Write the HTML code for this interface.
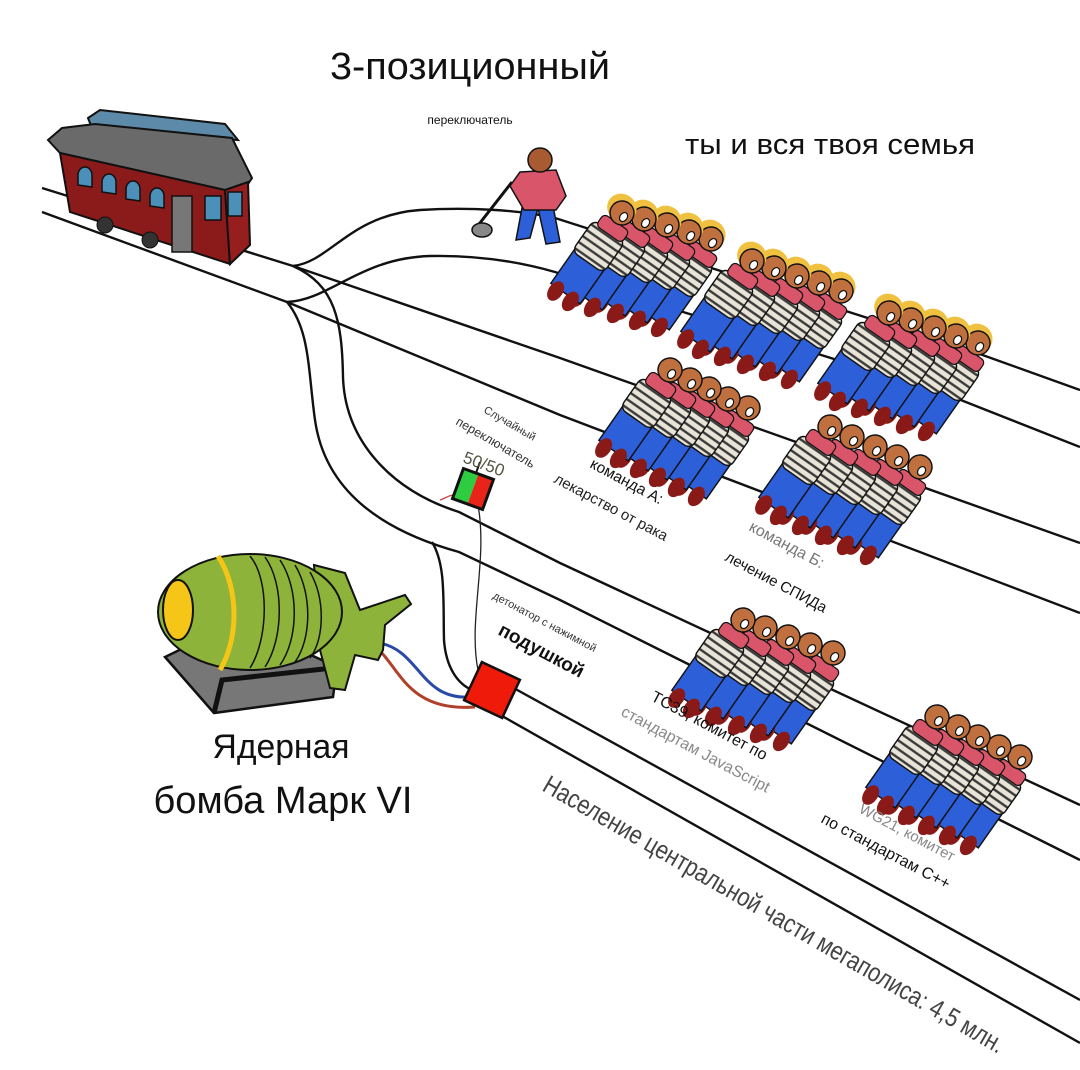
<!DOCTYPE html>
<html><head><meta charset="utf-8"><style>
html,body{margin:0;padding:0;background:#fff;}
svg{display:block;}
text{font-family:"Liberation Sans","DejaVu Sans",sans-serif;}
</style></head><body>
<svg width="1080" height="1070" viewBox="0 0 1080 1070" xmlns="http://www.w3.org/2000/svg">
<defs>
<pattern id="str" width="8" height="6" patternUnits="userSpaceOnUse">
<rect width="8" height="6" fill="#e8e4d8"/><rect y="3.5" width="8" height="2" fill="#3a3a3a"/>
</pattern>
<g id="p0">
<rect x="-15" y="48" width="30" height="34" fill="#2d5fd8" stroke="#111" stroke-width="1.2"/>
<ellipse cx="-8" cy="85" rx="6" ry="9" fill="#8a1a18"/>
<ellipse cx="7" cy="85" rx="6" ry="9" fill="#8a1a18"/>
<rect x="-16" y="18" width="32" height="32" rx="6" fill="url(#str)" stroke="#111" stroke-width="1.2"/>
<rect x="-12" y="9" width="26" height="12" rx="4" fill="#d9556a" stroke="#111" stroke-width="1"/>
<circle cx="0" cy="0" r="10" fill="#c0703e" stroke="#111" stroke-width="1.2"/>
<ellipse cx="3" cy="2" rx="3" ry="4" fill="#fff" stroke="#111" stroke-width="1"/>
</g>
<g id="p"><use href="#p0" transform="scale(1.2)"/></g>
<g id="pf">
<ellipse cx="-3" cy="-4" rx="15" ry="14" fill="#f0c040"/>
<use href="#p"/>
</g>
</defs>

<!-- tracks -->
<g fill="none" stroke="#111" stroke-width="2.4">
<path d="M42,188 L293,266"/>
<path d="M42,212 L287,302"/>
<path d="M293,266 C330,262 350,215 420,210 C470,207 520,210 555,218 L977,353 L1080,390"/>
<path d="M287,302 C330,300 360,258 430,256 C480,255 520,262 555,272 L943,393 L1080,447"/>
<path d="M293,266 L560,358 L1080,543"/>
<path d="M287,302 L560,415 L1080,613"/>
<path d="M293,266 C335,285 342,320 343,377 C345,440 390,490 459,512 L560,563 L1080,805"/>
<path d="M287,302 C310,330 308,370 315,420 C325,490 380,530 459,552 L560,600 L1080,860"/>
<path d="M432,542 C446,565 443,600 444,640 C446,668 458,684 472,690"/>
<path d="M510,686 L1080,1000"/>
<path d="M495,712 L1080,1043"/>
</g>
<!-- wires -->
<path d="M478,505 C488,560 468,620 478,670" fill="none" stroke="#222" stroke-width="1.3"/>
<path d="M458,495 C450,494 446,498 440,500" fill="none" stroke="#c44" stroke-width="1.3"/>
<path d="M379,643 C420,650 420,700 470,697" fill="none" stroke="#2a4aa8" stroke-width="3"/>
<path d="M379,650 C400,670 410,712 475,707" fill="none" stroke="#b0402a" stroke-width="3"/>

<!-- trolley -->
<polygon points="88,118 100,110 225,124 238,140 92,128" fill="#5d8aa8" stroke="#111" stroke-width="2"/>
<polygon points="48,140 62,128 95,124 232,138 252,178 240,196 225,190 60,153" fill="#6a6a6a" stroke="#111" stroke-width="2"/>
<polygon points="60,153 225,190 230,264 70,212" fill="#8b1a1a" stroke="#111" stroke-width="2"/>
<polygon points="225,190 248,182 250,245 230,264" fill="#961e1e" stroke="#111" stroke-width="2"/>
<g fill="#4a90b8" stroke="#111" stroke-width="1.5">
<path d="M78,185 v-10 a7,8 0 0 1 14,0 v12 z"/>
<path d="M102,192 v-10 a7,8 0 0 1 14,0 v12 z"/>
<path d="M126,199 v-10 a7,8 0 0 1 14,0 v12 z"/>
<path d="M150,206 v-10 a7,8 0 0 1 14,0 v12 z"/>
<rect x="205" y="196" width="16" height="24"/><rect x="228" y="192" width="14" height="24"/>
</g>
<rect x="172" y="196" width="20" height="56" fill="#777" stroke="#111" stroke-width="1.5"/>
<g fill="#333" stroke="#111"><circle cx="105" cy="225" r="8"/><circle cx="150" cy="240" r="8"/></g>

<!-- man -->
<path d="M476,228 L512,182" stroke="#111" stroke-width="3"/>
<ellipse cx="482" cy="230" rx="10" ry="7" fill="#888" stroke="#111" stroke-width="1.5"/>
<polygon points="522,208 538,208 530,238 516,240" fill="#2d5fd8" stroke="#111" stroke-width="1.5"/>
<polygon points="538,208 553,206 560,242 546,244" fill="#2d5fd8" stroke="#111" stroke-width="1.5"/>
<polygon points="520,172 556,170 566,196 556,210 524,210 510,186" fill="#d9556a" stroke="#111" stroke-width="1.5"/>
<circle cx="540" cy="160" r="12" fill="#a85a30" stroke="#111" stroke-width="1.5"/>

<!-- groups -->
<use href="#pf" transform="translate(711,239) rotate(35)"/>
<use href="#pf" transform="translate(689,232) rotate(35)"/>
<use href="#pf" transform="translate(667,225) rotate(35)"/>
<use href="#pf" transform="translate(644,219) rotate(35)"/>
<use href="#pf" transform="translate(622,213) rotate(35)"/>
<use href="#pf" transform="translate(841,291) rotate(35)"/>
<use href="#pf" transform="translate(819,283) rotate(35)"/>
<use href="#pf" transform="translate(797,276) rotate(35)"/>
<use href="#pf" transform="translate(774,268) rotate(35)"/>
<use href="#pf" transform="translate(752,261) rotate(35)"/>
<use href="#pf" transform="translate(978,343) rotate(35)"/>
<use href="#pf" transform="translate(956,336) rotate(35)"/>
<use href="#pf" transform="translate(934,328) rotate(35)"/>
<use href="#pf" transform="translate(911,320) rotate(35)"/>
<use href="#pf" transform="translate(889,313) rotate(35)"/>
<use href="#p" transform="translate(748,408) rotate(35)"/>
<use href="#p" transform="translate(728,399) rotate(35)"/>
<use href="#p" transform="translate(709,389) rotate(35)"/>
<use href="#p" transform="translate(690,380) rotate(35)"/>
<use href="#p" transform="translate(670,370) rotate(35)"/>
<use href="#p" transform="translate(920,467) rotate(35)"/>
<use href="#p" transform="translate(897,457) rotate(35)"/>
<use href="#p" transform="translate(875,447) rotate(35)"/>
<use href="#p" transform="translate(852,437) rotate(35)"/>
<use href="#p" transform="translate(830,427) rotate(35)"/>
<use href="#p" transform="translate(833,653) rotate(35)"/>
<use href="#p" transform="translate(810,645) rotate(35)"/>
<use href="#p" transform="translate(788,637) rotate(35)"/>
<use href="#p" transform="translate(765,628) rotate(35)"/>
<use href="#p" transform="translate(743,620) rotate(35)"/>
<use href="#p" transform="translate(1020,757) rotate(35)"/>
<use href="#p" transform="translate(999,747) rotate(35)"/>
<use href="#p" transform="translate(978,737) rotate(35)"/>
<use href="#p" transform="translate(958,727) rotate(35)"/>
<use href="#p" transform="translate(937,717) rotate(35)"/>

<!-- bomb -->
<polygon points="165,657 214,713 333,697 337,667 300,650 200,640" fill="#777" stroke="#111" stroke-width="2.5"/>
<path d="M214,713 L222,680 L333,668" fill="none" stroke="#111" stroke-width="5"/>
<polygon points="314,565 345,573 360,610 405,595 411,604 385,625 383,650 378,660 355,655 345,690 330,688 320,650" fill="#8db33a" stroke="#111" stroke-width="2"/>
<ellipse cx="250" cy="612" rx="92" ry="58" fill="#8db33a" stroke="#111" stroke-width="2"/>
<g fill="none" stroke="#111" stroke-width="1.5">
<path d="M250,556 C270,580 268,640 250,668"/>
<path d="M265,557 C285,585 283,640 265,667"/>
<path d="M280,560 C300,590 298,640 280,665"/>
<path d="M295,565 C313,595 311,640 295,662"/>
<path d="M310,572 C326,600 324,640 310,658"/>
</g>
<path d="M218,556 C240,590 238,640 220,670" fill="none" stroke="#f5c518" stroke-width="5"/>
<ellipse cx="178" cy="610" rx="15" ry="30" fill="#f5c518" stroke="#111" stroke-width="2"/>

<!-- boxes -->
<g transform="translate(492,690) rotate(25)"><rect x="-21" y="-21" width="42" height="42" fill="#f01a0a" stroke="#111" stroke-width="2.5"/></g>
<g transform="translate(473,489) rotate(20)">
<rect x="-16" y="-16" width="16" height="32" fill="#2ecc40"/><rect x="0" y="-16" width="16" height="32" fill="#e8231a"/>
<rect x="-16" y="-16" width="32" height="32" fill="none" stroke="#111" stroke-width="3"/></g>
<path d="M476,473 L480,462" stroke="#111" stroke-width="2"/>

<!-- text -->
<text x="470" y="79" font-size="38" text-anchor="middle" fill="#111" textLength="280" lengthAdjust="spacingAndGlyphs">3-позиционный</text>
<text x="470" y="124" font-size="12" text-anchor="middle" fill="#111">переключатель</text>
<text x="830" y="154" font-size="29" text-anchor="middle" fill="#111" textLength="290" lengthAdjust="spacingAndGlyphs">ты и вся твоя семья</text>
<text x="281" y="758" font-size="34" text-anchor="middle" fill="#111" textLength="137" lengthAdjust="spacingAndGlyphs">Ядерная</text>
<text x="283" y="813" font-size="38" text-anchor="middle" fill="#111" textLength="259" lengthAdjust="spacingAndGlyphs">бомба Марк VI</text>

<text transform="translate(483,412) rotate(30)" font-size="11" fill="#333">Случайный</text>
<text transform="translate(455,424) rotate(30)" font-size="12.5" fill="#333">переключатель</text>
<text transform="translate(462,462) rotate(20)" font-size="17" fill="#554">50/50</text>
<text transform="translate(589,467) rotate(28)" font-size="15.5" fill="#111">команда А:</text>
<text transform="translate(553,482) rotate(28)" font-size="15" fill="#222">лекарство от рака</text>
<text transform="translate(748,530) rotate(28)" font-size="16" fill="#777">команда Б:</text>
<text transform="translate(724,560) rotate(28)" font-size="15" fill="#111">лечение СПИДа</text>
<text transform="translate(492,598) rotate(28)" font-size="11" fill="#333">детонатор с нажимной</text>
<text transform="translate(497,634) rotate(28)" font-size="19" font-weight="600" fill="#111">подушкой</text>
<text transform="translate(650,700) rotate(28)" font-size="16" fill="#111">TC39, комитет по</text>
<text transform="translate(620,715) rotate(28)" font-size="16" fill="#888">стандартам JavaScript</text>
<text transform="translate(858,812) rotate(28)" font-size="15" fill="#888">WG21, комитет</text>
<text transform="translate(820,822) rotate(28)" font-size="16" fill="#111">по стандартам C++</text>
<text transform="translate(541,790) rotate(30)" font-size="26" fill="#444" textLength="528" lengthAdjust="spacingAndGlyphs">Население центральной части мегаполиса: 4,5 млн.</text>
</svg>
</body></html>
